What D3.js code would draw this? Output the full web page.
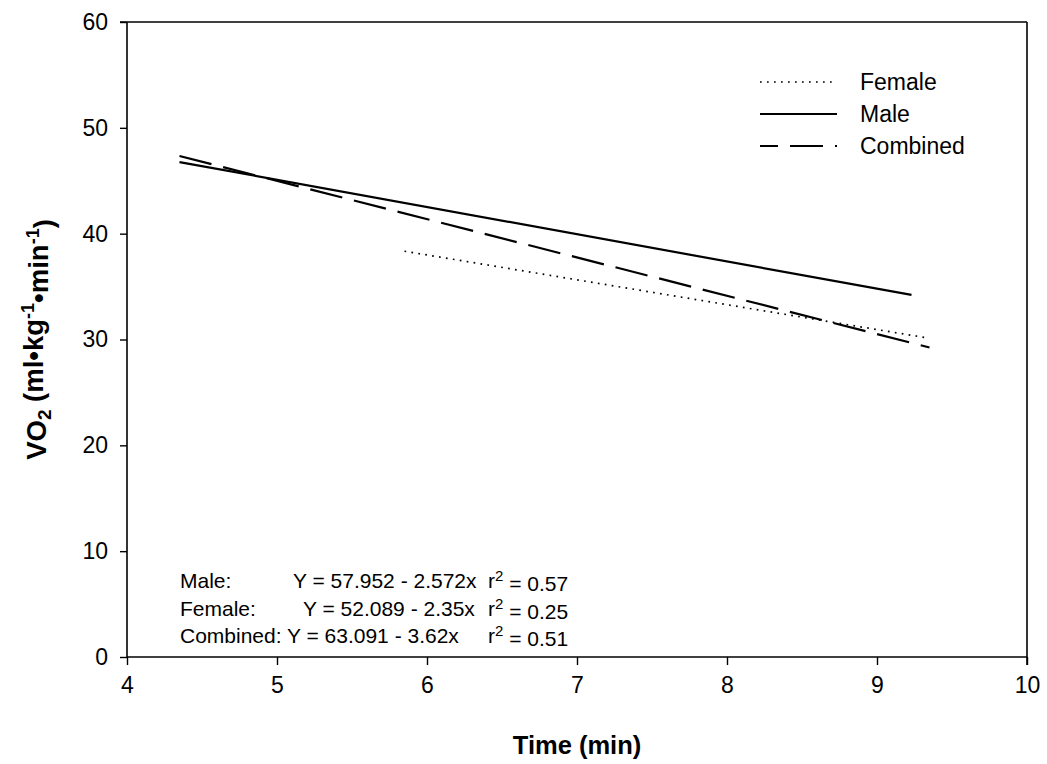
<!DOCTYPE html>
<html>
<head>
<meta charset="utf-8">
<script src="https://cdn.jsdelivr.net/npm/d3@7"></script>
<style>
  body { margin: 0; background: #fff; }
  svg { display: block; font-family: Arial, "Liberation Sans", sans-serif; }
</style>
</head>
<body>
<svg id="chart" width="1047" height="764"></svg>
<script>
// Regression lines of VO2 against run time
const seriesNames = ["Female", "Male", "Combined"];
const intercepts  = [52.089, 57.952, 63.091];
const slopes      = [-2.35, -2.572, -3.62];
const xStart      = [5.85, 4.35, 4.35];
const xEnd        = [9.33, 9.23, 9.35];
const rSquared    = ["0.25", "0.57", "0.51"];

const xTicks = [4, 5, 6, 7, 8, 9, 10];
const yTicks = [0, 10, 20, 30, 40, 50, 60];

const svg = d3.select("#chart");
const plotLeft = 127, plotRight = 1027, plotTop = 22, plotBottom = 657;

const x = d3.scaleLinear().domain([4, 10]).range([plotLeft, plotRight]);
const y = d3.scaleLinear().domain([0, 60]).range([plotBottom, plotTop]);

// line styles per series
const styles = {
  Female:   { width: 1.7, dash: "1.7,5.3" },
  Male:     { width: 2.2, dash: null },
  Combined: { width: 2.2, dash: "33,12" }
};

// frame: top and right edges
svg.append("line").attr("x1", plotLeft - 7).attr("x2", plotRight).attr("y1", plotTop).attr("y2", plotTop)
  .attr("stroke", "#000").attr("stroke-width", 1.6);
svg.append("line").attr("x1", plotRight).attr("x2", plotRight).attr("y1", plotTop).attr("y2", plotBottom + 8)
  .attr("stroke", "#000").attr("stroke-width", 1.6);

// axes
const xAxis = d3.axisBottom(x).tickValues(xTicks).tickSize(8).tickPadding(12).tickFormat(d3.format("d"));
const yAxis = d3.axisLeft(y).tickValues(yTicks).tickSize(7).tickPadding(12).tickFormat(d3.format("d"));

const gx = svg.append("g").attr("transform", `translate(0,${plotBottom})`).call(xAxis);
const gy = svg.append("g").attr("transform", `translate(${plotLeft},0)`).call(yAxis);
[gx, gy].forEach(g => {
  g.select(".domain").attr("stroke", "#000").attr("stroke-width", 1.6);
  g.selectAll(".tick line").attr("stroke", "#000").attr("stroke-width", 1.4);
  g.selectAll(".tick text").attr("fill", "#000").style("font-size", "23px")
    .style("font-family", "Arial, 'Liberation Sans', sans-serif");
});
gx.select(".domain").attr("d", `M${plotLeft},0H${plotRight}`);
gy.select(".domain").attr("d", `M0,${plotBottom}V${plotTop}`);

// regression lines
seriesNames.forEach((name, i) => {
  const pts = [xStart[i], xEnd[i]].map(t => [x(t), y(intercepts[i] + slopes[i] * t)]);
  const st = styles[name];
  const p = svg.append("path")
    .attr("d", d3.line()(pts))
    .attr("fill", "none")
    .attr("stroke", "#000")
    .attr("stroke-width", st.width);
  if (st.dash) p.attr("stroke-dasharray", st.dash);
});

// legend
const legend = svg.append("g");
const legendY = [82, 114, 146];
seriesNames.forEach((name, i) => {
  const st = styles[name];
  const l = legend.append("line")
    .attr("x1", 760).attr("x2", 837)
    .attr("y1", legendY[i]).attr("y2", legendY[i])
    .attr("stroke", "#000").attr("stroke-width", st.width);
  if (st.dash) l.attr("stroke-dasharray", st.dash)
    .attr("stroke-dashoffset", name === "Combined" ? 15 : 0);
  legend.append("text")
    .attr("x", 860).attr("y", legendY[i])
    .attr("dy", "0.35em")
    .style("font-size", "23px")
    .text(name);
});

// equations
const eqRows = [
  { label: "Male:",     eq: "Y = 57.952 - 2.572x", r: rSquared[1], eqX: 293, y: 581 },
  { label: "Female:",   eq: "Y = 52.089 - 2.35x",  r: rSquared[0], eqX: 303, y: 609 },
  { label: "Combined:", eq: "Y = 63.091 - 3.62x",  r: rSquared[2], eqX: null, y: 636 }
];
const eqG = svg.append("g").style("font-size", "21px");
eqRows.forEach(row => {
  if (row.eqX === null) {
    eqG.append("text").attr("x", 180).attr("y", row.y).attr("dy", "0.35em")
      .text(row.label + " " + row.eq);
  } else {
    eqG.append("text").attr("x", 180).attr("y", row.y).attr("dy", "0.35em").text(row.label);
    eqG.append("text").attr("x", row.eqX).attr("y", row.y).attr("dy", "0.35em").text(row.eq);
  }
  const t = eqG.append("text").attr("x", 488).attr("y", row.y).attr("dy", "0.35em");
  t.append("tspan").text("r");
  t.append("tspan").attr("dy", "-0.5em").style("font-size", "15px").text("2");
  t.append("tspan").attr("dy", "0.5em").text(" = " + row.r);
});

// axis titles
svg.append("text")
  .attr("x", (plotLeft + plotRight) / 2).attr("y", 745)
  .attr("text-anchor", "middle").attr("dy", "0.35em")
  .style("font-size", "25.5px").style("font-weight", "bold")
  .text("Time (min)");

const yTitle = svg.append("text")
  .attr("transform", `translate(36,${(plotTop + plotBottom) / 2}) rotate(-90)`)
  .attr("text-anchor", "middle").attr("dy", "0.35em")
  .style("font-size", "27.5px").style("font-weight", "bold");
yTitle.append("tspan").text("VO");
yTitle.append("tspan").attr("dy", "0.3em").style("font-size", "19px").text("2");
yTitle.append("tspan").attr("dy", "-0.3em").text(" (ml\u2022kg");
yTitle.append("tspan").attr("dy", "-0.5em").style("font-size", "18px").text("-1");
yTitle.append("tspan").attr("dy", "0.5em").text("\u2022min");
yTitle.append("tspan").attr("dy", "-0.5em").style("font-size", "18px").text("-1");
yTitle.append("tspan").attr("dy", "0.5em").text(")");
</script>
</body>
</html>
